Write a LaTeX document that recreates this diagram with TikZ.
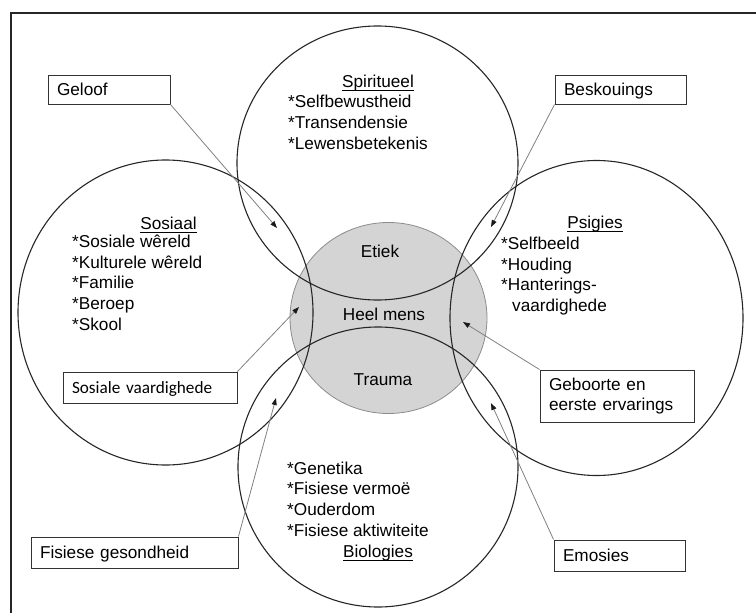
\documentclass[tikz,border=0pt]{standalone}
\usepackage{fontspec}
\setmainfont{Liberation Sans}
\newfontfamily\calibri{Carlito}
\usetikzlibrary{shapes.geometric,arrows.meta}

% underlined heading
\newsavebox\ulbox
\newcommand{\ulabel}[1]{\sbox\ulbox{#1}\rlap{\rule[-3.8pt]{\wd\ulbox}{0.9pt}}\usebox\ulbox}

\begin{document}
\begin{tikzpicture}[x=1pt, y=-1pt,
  font=\fontsize{17.2}{20.8}\selectfont,
  ring/.style={ellipse, draw=black!85, line width=1.1pt, inner sep=0pt},
  core/.style={ellipse, fill=black!17, draw=black!45, line width=0.8pt, inner sep=0pt},
  item/.style={inner sep=0pt, anchor=base west},
  head/.style={inner sep=0pt, anchor=base},
  lbox/.style={draw=black!80, fill=white, line width=0.9pt, inner xsep=9pt, inner ysep=0pt,
               minimum height=29pt, text height=12pt, text depth=0pt, align=left},
  arr/.style={draw=black!50, line width=0.8pt, -{Triangle[length=7pt,width=5pt,color=black!90]}}
]
\useasboundingbox (0,0) rectangle (756,613);

% outer frame
\draw[line width=1.2pt, black!85] (11,620) -- (11,13) -- (760,13);

% the whole person in the middle
\node[core, minimum width=197pt, minimum height=191pt] (heel) at (388.5,318) {};

% the four domains
\node[ring, minimum width=281pt, minimum height=274pt] (spir) at (377.5,163) {};
\node[ring, minimum width=295pt, minimum height=305pt] (sos)  at (165.5,312.5) {};
\node[ring, minimum width=293pt, minimum height=315pt] (psig) at (596.5,318) {};
\node[ring, minimum width=280pt, minimum height=280pt] (bio)  at (378,467) {};

% centre labels
\node[head] (etiek)  at (380,257.3) {Etiek};
\node[head] (mens)   at (384,320.7) {Heel mens};
\node[head] (trauma) at (383,385.7) {Trauma};

% Spiritueel
\node[head] (spirH) at (378,87) {\ulabel{Spiritueel}};
\node[item] (spir1) at (288,107.5) {*Selfbewustheid};
\node[item] (spir2) at (288,128.3) {*Transendensie};
\node[item] (spir3) at (288,149.1) {*Lewensbetekenis};

% Sosiaal
\node[head] (sosH) at (168.5,229.5) {\ulabel{Sosiaal}};
\node[item] (sos1) at (72,247.3) {*Sosiale wêreld};
\node[item] (sos2) at (72,268.1) {*Kulturele wêreld};
\node[item] (sos3) at (72,288.9) {*Familie};
\node[item] (sos4) at (72,309.7) {*Beroep};
\node[item] (sos5) at (72,330.5) {*Skool};

% Psigies
\node[head] (psigH) at (595,228.5) {\ulabel{Psigies}};
\node[item] (psig1) at (501,249.3) {*Selfbeeld};
\node[item] (psig2) at (501,270.1) {*Houding};
\node[item] (psig3) at (501,290.9) {*Hanterings-};
\node[item] (psig4) at (512,311.7) {vaardighede};

% Biologies
\node[item] (bio1) at (287,474) {*Genetika};
\node[item] (bio2) at (287,494.8) {*Fisiese vermoë};
\node[item] (bio3) at (287,515.6) {*Ouderdom};
\node[item] (bio4) at (287,536.4) {*Fisiese aktiwiteite};
\node[head] (bioH) at (378,557) {\ulabel{Biologies}};

% influence boxes
\node[lbox, text width=104pt] (geloof) at (109,89.5) {Geloof};
\node[lbox, text width=113pt] (besk)   at (620.5,89.5) {Beskouings};
\node[lbox, text width=156pt, minimum height=31pt, font=\calibri\fontsize{17.2}{20.8}\selectfont] (sosv) at (150,387.5) {Sosiale vaardighede};
\node[lbox, text width=189pt, minimum height=31pt] (fis) at (134.5,552.5) {Fisiese gesondheid};
\node[draw=black!80, fill=white, line width=0.9pt, inner xsep=9pt, inner ysep=0pt,
      minimum height=52pt, text width=136pt, align=left] (geb) at (617,396) {Geboorte en\\eerste ervarings};
\node[lbox, text width=113pt, minimum height=31pt] (emo) at (619.5,555.5) {Emosies};

% arrow tips
\coordinate (geloofT) at (277,228);
\coordinate (beskT)   at (491,227);
\coordinate (sosvT)   at (299,307);
\coordinate (fisT)    at (276,398);
\coordinate (gebT)    at (463,322);
\coordinate (emoT)    at (491,403);

\draw[arr] (geloof.south east) -- (geloofT);
\draw[arr] (besk.south west)   -- (beskT);
\draw[arr] (sosv.north east)   -- (sosvT);
\draw[arr] (fis.north east)    -- (fisT);
\draw[arr] (geb.north west)    -- (gebT);
\draw[arr] (emo.north west)    -- (emoT);
\end{tikzpicture}
\end{document}
